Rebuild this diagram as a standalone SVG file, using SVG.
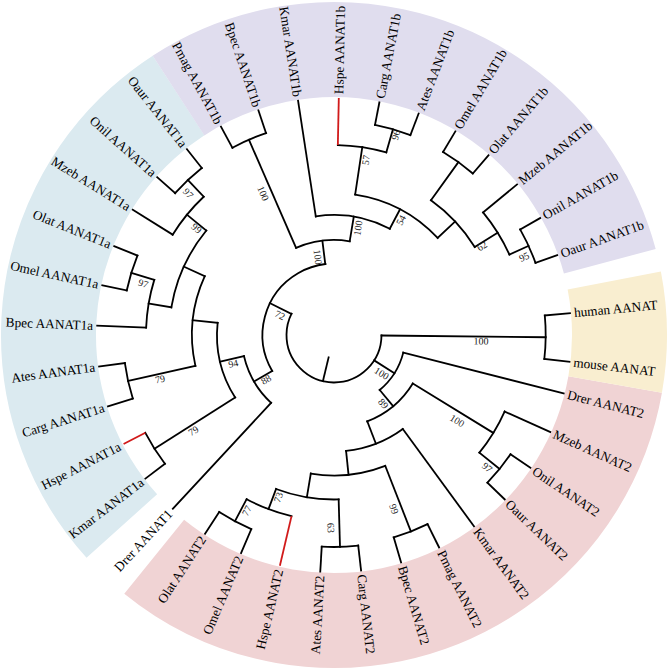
<svg xmlns="http://www.w3.org/2000/svg" width="669" height="669" viewBox="0 0 669 669">
<style>
.br line, .br circle {fill:none; stroke:#000; stroke-width:1.8; stroke-linecap:square}
.br line.red {stroke:#d11a1a; stroke-linecap:butt}
.sec {fill:none; stroke-width:95}
.lf {font-family:"Liberation Serif","Times New Roman",serif; font-size:13.3px; fill:#000}
.lf.e {text-anchor:end}
.bs {font-family:"Liberation Serif","Times New Roman",serif; font-size:10px; fill:#222; text-anchor:middle; dominant-baseline:central}
</style>
<rect width="669" height="669" fill="#fff"/>
<g id="clade-backgrounds" transform="translate(334,335)">
<circle class="sec" r="285.5" stroke="#f0d3d4" transform="rotate(10)" stroke-dasharray="592.96 2000"/>
<circle class="sec" r="285.5" stroke="#dbeaf0" transform="rotate(138)" stroke-dasharray="493.30 2000"/>
<circle class="sec" r="285.5" stroke="#e0ddee" transform="rotate(237)" stroke-dasharray="538.14 2000"/>
<circle class="sec" r="285.5" stroke="#f9eed0" transform="rotate(349)" stroke-dasharray="104.64 2000"/>
</g>
<g id="connectors" class="br" transform="translate(334,335)">
<circle r="47.5" transform="rotate(0.6)" stroke-dasharray="170.61 2000"/>
<circle r="211.7" transform="rotate(354.7)" stroke-dasharray="43.60 2000"/>
<circle r="71.5" transform="rotate(14.28)" stroke-dasharray="44.89 2000"/>
<circle r="92.5" transform="rotate(31.57)" stroke-dasharray="60.31 2000"/>
<circle r="187" transform="rotate(24.16)" stroke-dasharray="48.37 2000"/>
<circle r="213" transform="rotate(34.04)" stroke-dasharray="36.73 2000"/>
<circle r="116.5" transform="rotate(53.8)" stroke-dasharray="61.53 2000"/>
<circle r="140.5" transform="rotate(68.62)" stroke-dasharray="75.72 2000"/>
<circle r="211" transform="rotate(63.68)" stroke-dasharray="36.38 2000"/>
<circle r="164.5" transform="rotate(88.38)" stroke-dasharray="63.82 2000"/>
<circle r="212" transform="rotate(83.44)" stroke-dasharray="36.56 2000"/>
<circle r="186" transform="rotate(103.2)" stroke-dasharray="48.11 2000"/>
<circle r="211" transform="rotate(113.08)" stroke-dasharray="36.38 2000"/>
<circle r="71.5" transform="rotate(149.82)" stroke-dasharray="141.21 2000"/>
<circle r="92.5" transform="rotate(132.84)" stroke-dasharray="54.82 2000"/>
<circle r="117" transform="rotate(147.66)" stroke-dasharray="78.19 2000"/>
<circle r="212.5" transform="rotate(142.72)" stroke-dasharray="36.64 2000"/>
<circle r="142" transform="rotate(167.42)" stroke-dasharray="91.82 2000"/>
<circle r="211" transform="rotate(162.48)" stroke-dasharray="36.38 2000"/>
<circle r="165" transform="rotate(189.65)" stroke-dasharray="85.36 2000"/>
<circle r="188" transform="rotate(182.24)" stroke-dasharray="48.63 2000"/>
<circle r="212" transform="rotate(192.12)" stroke-dasharray="36.56 2000"/>
<circle r="190" transform="rotate(211.88)" stroke-dasharray="49.15 2000"/>
<circle r="213" transform="rotate(221.76)" stroke-dasharray="36.73 2000"/>
<circle r="95" transform="rotate(246.46)" stroke-dasharray="54.78 2000"/>
<circle r="213" transform="rotate(241.52)" stroke-dasharray="36.73 2000"/>
<circle r="120" transform="rotate(261.28)" stroke-dasharray="76.30 2000"/>
<circle r="142" transform="rotate(278.57)" stroke-dasharray="94.90 2000"/>
<circle r="190" transform="rotate(271.16)" stroke-dasharray="49.15 2000"/>
<circle r="214" transform="rotate(281.04)" stroke-dasharray="36.90 2000"/>
<circle r="166" transform="rotate(305.74)" stroke-dasharray="64.40 2000"/>
<circle r="213" transform="rotate(300.8)" stroke-dasharray="36.73 2000"/>
<circle r="193" transform="rotate(320.56)" stroke-dasharray="49.92 2000"/>
<circle r="214" transform="rotate(330.44)" stroke-dasharray="36.90 2000"/>
<line x1="23" x2="47.5" transform="rotate(103.5)"/>
<line x1="47.5" x2="211.7" transform="rotate(0.6)"/>
<line x1="211.7" x2="237" transform="rotate(354.7)"/>
<line x1="211.7" x2="237" transform="rotate(6.5)"/>
<line x1="47.5" x2="71.5" transform="rotate(32.27)"/>
<line x1="47.5" x2="71.5" transform="rotate(206.4)"/>
<line x1="71.5" x2="237" transform="rotate(14.28)"/>
<line x1="71.5" x2="92.5" transform="rotate(50.25)"/>
<line x1="92.5" x2="187" transform="rotate(31.57)"/>
<line x1="92.5" x2="116.5" transform="rotate(68.93)"/>
<line x1="187" x2="237" transform="rotate(24.16)"/>
<line x1="187" x2="213" transform="rotate(38.98)"/>
<line x1="213" x2="237" transform="rotate(34.04)"/>
<line x1="213" x2="237" transform="rotate(43.92)"/>
<line x1="116.5" x2="237" transform="rotate(53.8)"/>
<line x1="116.5" x2="140.5" transform="rotate(84.06)"/>
<line x1="140.5" x2="211" transform="rotate(68.62)"/>
<line x1="211" x2="237" transform="rotate(63.68)"/>
<line x1="211" x2="237" transform="rotate(73.56)"/>
<line x1="140.5" x2="164.5" transform="rotate(99.5)"/>
<line x1="164.5" x2="212" transform="rotate(88.38)"/>
<line x1="212" x2="237" transform="rotate(83.44)"/>
<line x1="212" x2="237" transform="rotate(93.32)"/>
<line x1="164.5" x2="186" transform="rotate(110.61)"/>
<line class="red" x1="186" x2="237" transform="rotate(103.2)"/>
<line x1="186" x2="211" transform="rotate(118.02)"/>
<line x1="211" x2="237" transform="rotate(113.08)"/>
<line x1="211" x2="237" transform="rotate(122.96)"/>
<line x1="71.5" x2="92.5" transform="rotate(149.82)"/>
<line x1="92.5" x2="237" transform="rotate(132.84)"/>
<line x1="92.5" x2="117" transform="rotate(166.8)"/>
<line x1="117" x2="212.5" transform="rotate(147.66)"/>
<line x1="212.5" x2="237" transform="rotate(142.72)"/>
<line class="red" x1="212.5" x2="237" transform="rotate(152.6)"/>
<line x1="117" x2="142" transform="rotate(185.95)"/>
<line x1="142" x2="211" transform="rotate(167.42)"/>
<line x1="211" x2="237" transform="rotate(162.48)"/>
<line x1="211" x2="237" transform="rotate(172.36)"/>
<line x1="142" x2="165" transform="rotate(204.47)"/>
<line x1="165" x2="188" transform="rotate(189.65)"/>
<line x1="188" x2="237" transform="rotate(182.24)"/>
<line x1="188" x2="212" transform="rotate(197.06)"/>
<line x1="212" x2="237" transform="rotate(192.12)"/>
<line x1="212" x2="237" transform="rotate(202)"/>
<line x1="165" x2="190" transform="rotate(219.29)"/>
<line x1="190" x2="237" transform="rotate(211.88)"/>
<line x1="190" x2="213" transform="rotate(226.7)"/>
<line x1="213" x2="237" transform="rotate(221.76)"/>
<line x1="213" x2="237" transform="rotate(231.64)"/>
<line x1="71.5" x2="95" transform="rotate(262.98)"/>
<line x1="95" x2="213" transform="rotate(246.46)"/>
<line x1="213" x2="237" transform="rotate(241.52)"/>
<line x1="213" x2="237" transform="rotate(251.4)"/>
<line x1="95" x2="120" transform="rotate(279.5)"/>
<line x1="120" x2="237" transform="rotate(261.28)"/>
<line x1="120" x2="142" transform="rotate(297.71)"/>
<line x1="142" x2="190" transform="rotate(278.57)"/>
<line class="red" x1="190" x2="237" transform="rotate(271.16)"/>
<line x1="190" x2="214" transform="rotate(285.98)"/>
<line x1="214" x2="237" transform="rotate(281.04)"/>
<line x1="214" x2="237" transform="rotate(290.92)"/>
<line x1="142" x2="166" transform="rotate(316.86)"/>
<line x1="166" x2="213" transform="rotate(305.74)"/>
<line x1="213" x2="237" transform="rotate(300.8)"/>
<line x1="213" x2="237" transform="rotate(310.68)"/>
<line x1="166" x2="193" transform="rotate(327.97)"/>
<line x1="193" x2="237" transform="rotate(320.56)"/>
<line x1="193" x2="214" transform="rotate(335.38)"/>
<line x1="214" x2="237" transform="rotate(330.44)"/>
<line x1="214" x2="237" transform="rotate(340.32)"/>
</g>
<g id="bootstrap">
<text class="bs" transform="translate(481,341) rotate(0.6)">100</text>
<text class="bs" transform="translate(381.7,373.3) rotate(32.27)">100</text>
<text class="bs" transform="translate(383.5,403.5) rotate(50.25)">89</text>
<text class="bs" transform="translate(457.3,420.7) rotate(31.57)">100</text>
<text class="bs" transform="translate(487.3,467.3) rotate(38.98)">97</text>
<text class="bs" transform="translate(394,509) rotate(68.62)">99</text>
<text class="bs" transform="translate(331,528) rotate(88.38)">63</text>
<text class="bs" transform="translate(278.3,497.3) rotate(-69.39)">73</text>
<text class="bs" transform="translate(246.7,510.7) rotate(-61.98)">77</text>
<text class="bs" transform="translate(193.3,430.7) rotate(-32.34)">79</text>
<text class="bs" transform="translate(266,379.5) rotate(-30.18)">88</text>
<text class="bs" transform="translate(233.3,363.5) rotate(-13.2)">94</text>
<text class="bs" transform="translate(160,379) rotate(-12.58)">79</text>
<text class="bs" transform="translate(143.3,283.3) rotate(17.06)">97</text>
<text class="bs" transform="translate(196.7,228.3) rotate(39.29)">99</text>
<text class="bs" transform="translate(188.3,193.3) rotate(46.7)">97</text>
<text class="bs" transform="translate(263.3,193.3) rotate(66.46)">100</text>
<text class="bs" transform="translate(318,257) rotate(82.98)">100</text>
<text class="bs" transform="translate(280,315) rotate(26.4)">72</text>
<text class="bs" transform="translate(358,228) rotate(279.5)">100</text>
<text class="bs" transform="translate(401,220) rotate(297.71)">54</text>
<text class="bs" transform="translate(365.7,160) rotate(278.57)">57</text>
<text class="bs" transform="translate(395.7,135) rotate(285.98)">96</text>
<text class="bs" transform="translate(482,246) rotate(327.97)">62</text>
<text class="bs" transform="translate(524,256.7) rotate(335.38)">95</text>
</g>
<g id="leaf-human-AANAT" transform="translate(334,335) rotate(354.7)"><text class="lf" x="241" dy="0.33em">human AANAT</text></g>
<g id="leaf-mouse-AANAT" transform="translate(334,335) rotate(6.5)"><text class="lf" x="241" dy="0.33em">mouse AANAT</text></g>
<g id="leaf-Drer-AANAT2" transform="translate(334,335) rotate(14.28)"><text class="lf" x="241" dy="0.33em">Drer AANAT2</text></g>
<g id="leaf-Mzeb-AANAT2" transform="translate(334,335) rotate(24.16)"><text class="lf" x="241" dy="0.33em">Mzeb AANAT2</text></g>
<g id="leaf-Onil-AANAT2" transform="translate(334,335) rotate(34.04)"><text class="lf" x="241" dy="0.33em">Onil AANAT2</text></g>
<g id="leaf-Oaur-AANAT2" transform="translate(334,335) rotate(43.92)"><text class="lf" x="241" dy="0.33em">Oaur AANAT2</text></g>
<g id="leaf-Kmar-AANAT2" transform="translate(334,335) rotate(53.8)"><text class="lf" x="241" dy="0.33em">Kmar AANAT2</text></g>
<g id="leaf-Pmag-AANAT2" transform="translate(334,335) rotate(63.68)"><text class="lf" x="241" dy="0.33em">Pmag AANAT2</text></g>
<g id="leaf-Bpec-AANAT2" transform="translate(334,335) rotate(73.56)"><text class="lf" x="241" dy="0.33em">Bpec AANAT2</text></g>
<g id="leaf-Carg-AANAT2" transform="translate(334,335) rotate(83.44)"><text class="lf" x="241" dy="0.33em">Carg AANAT2</text></g>
<g id="leaf-Ates-AANAT2" transform="translate(334,335) rotate(-86.68)"><text class="lf e" x="-241" dy="0.33em">Ates AANAT2</text></g>
<g id="leaf-Hspe-AANAT2" transform="translate(334,335) rotate(-76.8)"><text class="lf e" x="-241" dy="0.33em">Hspe AANAT2</text></g>
<g id="leaf-Omel-AANAT2" transform="translate(334,335) rotate(-66.92)"><text class="lf e" x="-241" dy="0.33em">Omel AANAT2</text></g>
<g id="leaf-Olat-AANAT2" transform="translate(334,335) rotate(-57.04)"><text class="lf e" x="-241" dy="0.33em">Olat AANAT2</text></g>
<g id="leaf-Drer-AANAT1" transform="translate(334,335) rotate(-47.16)"><text class="lf e" x="-241" dy="0.33em">Drer AANAT1</text></g>
<g id="leaf-Kmar-AANAT1a" transform="translate(334,335) rotate(-37.28)"><text class="lf e" x="-241" dy="0.33em">Kmar AANAT1a</text></g>
<g id="leaf-Hspe-AANAT1a" transform="translate(334,335) rotate(-27.4)"><text class="lf e" x="-241" dy="0.33em">Hspe AANAT1a</text></g>
<g id="leaf-Carg-AANAT1a" transform="translate(334,335) rotate(-17.52)"><text class="lf e" x="-241" dy="0.33em">Carg AANAT1a</text></g>
<g id="leaf-Ates-AANAT1a" transform="translate(334,335) rotate(-7.64)"><text class="lf e" x="-241" dy="0.33em">Ates AANAT1a</text></g>
<g id="leaf-Bpec-AANAT1a" transform="translate(334,335) rotate(2.24)"><text class="lf e" x="-241" dy="0.33em">Bpec AANAT1a</text></g>
<g id="leaf-Omel-AANAT1a" transform="translate(334,335) rotate(12.12)"><text class="lf e" x="-241" dy="0.33em">Omel AANAT1a</text></g>
<g id="leaf-Olat-AANAT1a" transform="translate(334,335) rotate(22)"><text class="lf e" x="-241" dy="0.33em">Olat AANAT1a</text></g>
<g id="leaf-Mzeb-AANAT1a" transform="translate(334,335) rotate(31.88)"><text class="lf e" x="-241" dy="0.33em">Mzeb AANAT1a</text></g>
<g id="leaf-Onil-AANAT1a" transform="translate(334,335) rotate(41.76)"><text class="lf e" x="-241" dy="0.33em">Onil AANAT1a</text></g>
<g id="leaf-Oaur-AANAT1a" transform="translate(334,335) rotate(51.64)"><text class="lf e" x="-241" dy="0.33em">Oaur AANAT1a</text></g>
<g id="leaf-Pmag-AANAT1b" transform="translate(334,335) rotate(61.52)"><text class="lf e" x="-241" dy="0.33em">Pmag AANAT1b</text></g>
<g id="leaf-Bpec-AANAT1b" transform="translate(334,335) rotate(71.4)"><text class="lf e" x="-241" dy="0.33em">Bpec AANAT1b</text></g>
<g id="leaf-Kmar-AANAT1b" transform="translate(334,335) rotate(81.28)"><text class="lf e" x="-241" dy="0.33em">Kmar AANAT1b</text></g>
<g id="leaf-Hspe-AANAT1b" transform="translate(334,335) rotate(271.16)"><text class="lf" x="241" dy="0.33em">Hspe AANAT1b</text></g>
<g id="leaf-Carg-AANAT1b" transform="translate(334,335) rotate(281.04)"><text class="lf" x="241" dy="0.33em">Carg AANAT1b</text></g>
<g id="leaf-Ates-AANAT1b" transform="translate(334,335) rotate(290.92)"><text class="lf" x="241" dy="0.33em">Ates AANAT1b</text></g>
<g id="leaf-Omel-AANAT1b" transform="translate(334,335) rotate(300.8)"><text class="lf" x="241" dy="0.33em">Omel AANAT1b</text></g>
<g id="leaf-Olat-AANAT1b" transform="translate(334,335) rotate(310.68)"><text class="lf" x="241" dy="0.33em">Olat AANAT1b</text></g>
<g id="leaf-Mzeb-AANAT1b" transform="translate(334,335) rotate(320.56)"><text class="lf" x="241" dy="0.33em">Mzeb AANAT1b</text></g>
<g id="leaf-Onil-AANAT1b" transform="translate(334,335) rotate(330.44)"><text class="lf" x="241" dy="0.33em">Onil AANAT1b</text></g>
<g id="leaf-Oaur-AANAT1b" transform="translate(334,335) rotate(340.32)"><text class="lf" x="241" dy="0.33em">Oaur AANAT1b</text></g>
</svg>
